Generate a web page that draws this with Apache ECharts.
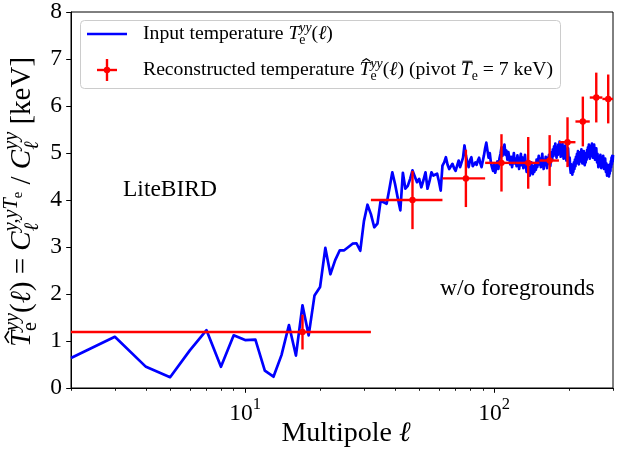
<!DOCTYPE html>
<html>
<head>
<meta charset="utf-8">
<script src="https://cdn.jsdelivr.net/npm/echarts@6/dist/echarts.min.js"></script>
<style>
  html, body { margin: 0; padding: 0; background: #ffffff; }
  #main { width: 621px; height: 451px; }
</style>
</head>
<body>
<div id="main"></div>
<script>
const FONT = '"Liberation Serif", "Times New Roman", serif';

// Axis ranges and tick positions
const xMin = 2;
const xMax = 300;
const yMin = 0;
const yMax = 8;
const xMajorTicks = [10, 100];
const xMinorTicks = [2, 3, 4, 5, 6, 7, 8, 9, 20, 30, 40, 50, 60, 70, 80, 90, 200, 300];

// Input temperature, one value per multipole, starting at ell = 2
const firstEll = 2;
const inputTe = [
  0.64, 1.09, 0.45, 0.23, 0.80, 1.23, 0.45, 1.12,
  1.02, 1.03, 0.37, 0.24, 0.70, 1.34, 0.69, 1.76, 1.12, 1.97,
  2.15, 2.98, 2.42, 2.72, 2.93, 2.93, 3.00, 3.07, 3.08, 2.92,
  3.55, 3.90, 3.70, 3.42, 3.50, 3.98, 3.95, 3.92, 4.25, 4.59,
  4.34, 4.05, 3.78, 4.58, 4.24, 4.30, 4.45, 4.63, 4.50, 4.38,
  4.45, 4.27, 4.42, 4.59, 4.24, 4.40, 4.59, 4.52, 4.49, 4.56,
  4.40, 4.20, 4.73, 4.80, 4.91, 4.75, 4.66, 4.70, 4.77, 4.68,
  4.62, 4.59, 4.84, 4.70, 4.66, 4.90, 5.16, 4.95, 4.80, 4.70,
  4.85, 4.91, 4.72, 4.68, 4.80, 4.75, 4.84, 4.90, 4.78, 4.70, 4.72,
  4.95, 5.10, 5.22, 5.05, 4.90, 5.00, 4.80, 4.70, 4.62, 4.75,
  4.58, 4.70, 4.82, 4.66, 4.88, 4.98, 5.12, 4.94, 5.08, 5.18,
  4.96, 5.05, 4.86, 5.02, 4.90, 4.76, 4.92, 4.70, 4.84, 5.00,
  4.78, 4.88, 4.72, 4.95, 4.80, 4.66, 4.86, 4.98, 4.74, 4.90,
  4.68, 4.82, 4.96, 4.72, 4.60, 4.76, 4.58, 4.70, 4.52, 4.66,
  4.80, 4.62, 4.55, 4.72, 4.60, 4.78, 4.64, 4.86, 4.70, 4.82,
  4.94, 4.76, 4.88, 4.70, 4.84, 4.98, 4.78, 4.66, 4.86, 4.74,
  4.92, 4.80, 4.68, 4.90, 4.78, 4.96, 4.84, 4.72, 4.88, 5.02,
  4.86, 5.08, 4.94, 5.14, 4.98, 5.20, 5.04, 4.90, 5.10, 4.96,
  5.18, 5.02, 5.24, 5.06, 4.92, 5.12, 4.96, 5.20, 5.04, 4.88,
  5.08, 4.94, 5.16, 4.98, 4.84, 5.04, 4.90, 5.10, 4.86, 4.74,
  4.90, 4.68, 4.58, 4.76, 4.62, 4.54, 4.72, 4.60, 4.80, 4.66,
  4.86, 4.72, 4.92, 4.78, 4.98, 4.84, 5.04, 4.88, 4.76, 4.96,
  4.82, 5.02, 4.86, 5.08, 4.90, 4.78, 4.98, 4.84, 5.04, 4.88,
  4.74, 4.94, 4.80, 5.00, 4.86, 5.06, 4.92, 5.12, 4.96, 5.18,
  5.02, 4.88, 5.08, 4.94, 5.16, 5.00, 5.20, 5.04, 4.90, 5.12,
  4.96, 5.18, 5.02, 4.86, 5.06, 4.92, 5.10, 4.94, 4.80, 4.98,
  4.84, 4.70, 4.88, 4.74, 4.92, 4.78, 4.96, 4.82, 4.68, 4.86,
  4.72, 4.90, 4.76, 4.94, 4.80, 4.66, 4.84, 4.70, 4.88, 4.74,
  4.60, 4.78, 4.64, 4.52, 4.70, 4.56, 4.74, 4.60, 4.50, 4.68,
  4.56, 4.76, 4.62, 4.82, 4.70, 4.90, 4.76, 4.94, 4.82, 4.96
];

// Reconstructed temperature in multipole bins of width 30
const binCenters = [17, 47, 77, 107, 137, 167, 197, 227, 257, 287];
const binHalfWidths = [15, 15, 15, 15, 15, 15, 15, 15, 15, 15];
const reconTe = [1.19, 4.00, 4.46, 4.79, 4.79, 4.84, 5.23, 5.67, 6.18, 6.15];
const reconErr = [0.37, 0.62, 0.61, 0.61, 0.55, 0.54, 0.53, 0.53, 0.53, 0.52];

const BLUE = '#0000ff';
const RED = '#ff0000';

const chart = echarts.init(document.getElementById('main'), null, { renderer: 'canvas' });

// ---- small helper to set math-like text (italics, sub/superscripts) ----
const measureCtx = document.createElement('canvas').getContext('2d');
function fontStr(size, italic) {
  return (italic ? 'italic ' : '') + size.toFixed(2) + 'px ' + FONT;
}
function textWidth(str, size, italic) {
  measureCtx.font = fontStr(size, italic);
  return measureCtx.measureText(str).width;
}
// Lays tokens out on a baseline at y = 0.
// t: text, it: italic, sc: size scale, dy: baseline shift (em, up positive),
// mark: remember start x, from: start at the remembered x, hat / bar accents.
function mathRun(tokens, base, color, align) {
  let x = 0, anchor = 0;
  const items = [];
  tokens.forEach(function (tk) {
    const size = base * (tk.sc || 1);
    const w = textWidth(tk.t, size, tk.it);
    let sx = tk.from ? anchor : x;
    sx += (tk.gap || 0) * base;
    if (tk.mark) anchor = sx;
    items.push({ tk: tk, size: size, w: w, sx: sx, by: -(tk.dy || 0) * base });
    x = Math.max(x, sx + w);
  });
  const width = x;
  const off = align === 'center' ? -width / 2 : 0;
  const els = [];
  items.forEach(function (it) {
    const sx = it.sx + off, by = it.by, size = it.size, w = it.w, tk = it.tk;
    els.push({
      type: 'text', x: sx, y: by - 0.34 * size, silent: true, z: 10,
      style: {
        text: tk.t, font: fontStr(size, tk.it), fill: color,
        align: 'left', textAlign: 'left', verticalAlign: 'middle', textVerticalAlign: 'middle'
      }
    });
    if (tk.hat) {
      const cx = sx + w * 0.62;
      els.push({
        type: 'polyline', silent: true, z: 10,
        shape: { points: [[cx - 0.2 * size, by - 0.8 * size], [cx, by - 0.93 * size], [cx + 0.2 * size, by - 0.8 * size]] },
        style: { stroke: color, lineWidth: 0.055 * size, fill: null }
      });
    }
    if (tk.bar) {
      els.push({
        type: 'line', silent: true, z: 10,
        shape: { x1: sx + 0.15 * w, y1: by - 0.8 * size, x2: sx + w * 1.05, y2: by - 0.8 * size },
        style: { stroke: color, lineWidth: 0.05 * size }
      });
    }
  });
  return { els: els, width: width };
}
function placeRun(run, x, y, rotation) {
  return { type: 'group', x: x, y: y, rotation: rotation || 0, z: 10, children: run.els };
}

// ---- series data ----
const lineData = inputTe.map(function (v, i) { return [firstEll + i, v]; });
const errData = binCenters.map(function (c, i) { return [c, reconTe[i], binHalfWidths[i], reconErr[i]]; });

// ---- text blocks ----
const LEG = 19.7;   // legend entries
const TXT = 23.5;   // tick labels and annotations
const LAB = 28;     // x axis title
const YLAB = 29;    // y axis title

const legendRow1 = mathRun([
  { t: 'Input temperature ' },
  { t: 'T', it: true },
  { t: 'yy', it: true, sc: 0.7, dy: 0.42, mark: true },
  { t: 'e', sc: 0.7, dy: -0.2, from: true },
  { t: '(' }, { t: 'ℓ', it: true }, { t: ')' }
], LEG, '#000');

const legendRow2 = mathRun([
  { t: 'Reconstructed temperature ' },
  { t: 'T', it: true, hat: true },
  { t: 'yy', it: true, sc: 0.7, dy: 0.42, mark: true },
  { t: 'e', sc: 0.7, dy: -0.2, from: true },
  { t: '(' }, { t: 'ℓ', it: true }, { t: ')' },
  { t: ' (pivot ' },
  { t: 'T', it: true, bar: true },
  { t: 'e', sc: 0.7, dy: -0.2 },
  { t: ' = 7 keV)' }
], LEG, '#000');

const yLabel = mathRun([
  { t: 'T', it: true, hat: true },
  { t: 'yy', it: true, sc: 0.7, dy: 0.42, mark: true },
  { t: 'e', sc: 0.7, dy: -0.2, from: true },
  { t: '(' }, { t: 'ℓ', it: true }, { t: ')' },
  { t: ' = ' },
  { t: 'C', it: true },
  { t: 'y,yT', it: true, sc: 0.7, dy: 0.45, mark: true },
  { t: 'e', sc: 0.5, dy: 0.32 },
  { t: 'ℓ', it: true, sc: 0.7, dy: -0.25, from: true },
  { t: ' / ' },
  { t: 'C', it: true },
  { t: 'yy', it: true, sc: 0.7, dy: 0.45, mark: true },
  { t: 'ℓ', it: true, sc: 0.7, dy: -0.25, from: true },
  { t: ' [keV]' }
], YLAB, '#000', 'center');

const xLabel = mathRun([{ t: 'Multipole ' }, { t: 'ℓ', it: true }], LAB, '#000', 'center');
const liteText = mathRun([{ t: 'LiteBIRD' }], TXT, '#000');
const fgText = mathRun([{ t: 'w/o foregrounds' }], TXT, '#000');

const legendBox = { x: 80, y: 20, w: 480, h: 68 };

const graphicEls = [
  {
    type: 'rect', z: 5, silent: true,
    shape: { x: legendBox.x + 0.5, y: legendBox.y + 0.5, width: legendBox.w, height: legendBox.h, r: 4 },
    style: { fill: 'rgba(255,255,255,0.8)', stroke: '#cccccc', lineWidth: 1 }
  },
  {
    type: 'line', z: 10, silent: true,
    shape: { x1: 87, y1: 34, x2: 127, y2: 34 },
    style: { stroke: BLUE, lineWidth: 2.7 }
  },
  {
    type: 'group', z: 10, silent: true, x: 107, y: 70,
    children: [
      { type: 'line', z: 10, shape: { x1: -10, y1: 0, x2: 10, y2: 0 }, style: { stroke: RED, lineWidth: 2.4 } },
      { type: 'line', z: 10, shape: { x1: 0, y1: -11, x2: 0, y2: 11 }, style: { stroke: RED, lineWidth: 2.4 } },
      { type: 'circle', z: 10, shape: { cx: 0, cy: 0, r: 3.2 }, style: { fill: RED } }
    ]
  },
  placeRun(legendRow1, 143, 41),
  placeRun(legendRow2, 143, 77),
  placeRun(liteText, 123, 198),
  placeRun(fgText, 440, 297),
  placeRun(xLabel, 346, 443),
  placeRun(yLabel, 32, 202, Math.PI / 2)
];

function logAxisBase(extra) {
  return Object.assign({
    type: 'log', logBase: 10, min: xMin, max: xMax, gridIndex: 0, position: 'bottom',
    axisLine: { show: true, onZero: false, lineStyle: { color: '#000', width: 1 } },
    splitLine: { show: false },
    minorTick: { show: false },
    minorSplitLine: { show: false }
  }, extra);
}

const option = {
  animation: false,
  backgroundColor: '#ffffff',
  grid: {
    left: 71, right: 8, top: 11, bottom: 63, containLabel: false,
    show: true, borderColor: '#000', borderWidth: 1, backgroundColor: 'transparent'
  },
  xAxis: [
    logAxisBase({
      axisTick: { show: true, inside: false, length: 2.8, customValues: xMinorTicks, lineStyle: { color: '#000', width: 0.9 } },
      axisLabel: { show: false }
    }),
    logAxisBase({
      axisTick: { show: true, inside: false, length: 4.8, customValues: xMajorTicks, lineStyle: { color: '#000', width: 1 } },
      axisLabel: {
        show: true, customValues: xMajorTicks, margin: 8,
        formatter: function (v) { return '{b|10}{s|' + Math.round(Math.log10(v)) + '}'; },
        rich: {
          b: { fontFamily: FONT, fontSize: TXT, color: '#000', lineHeight: 30, verticalAlign: 'bottom' },
          s: { fontFamily: FONT, fontSize: 16.5, color: '#000', lineHeight: 16, verticalAlign: 'top' }
        }
      }
    })
  ],
  yAxis: {
    type: 'value', min: yMin, max: yMax, interval: 1,
    axisLine: { show: true, onZero: false, lineStyle: { color: '#000', width: 1 } },
    axisTick: { show: true, inside: false, length: 4.8, lineStyle: { color: '#000', width: 1 } },
    axisLabel: { show: true, margin: 9, fontFamily: FONT, fontSize: TXT, color: '#000' },
    splitLine: { show: false }
  },
  series: [
    {
      name: 'Input temperature', type: 'line', xAxisIndex: 0, yAxisIndex: 0,
      data: lineData, showSymbol: false, symbol: 'none', clip: true, z: 2,
      lineStyle: { color: BLUE, width: 2.7, join: 'round' }
    },
    {
      name: 'Reconstructed temperature', type: 'custom', xAxisIndex: 0, yAxisIndex: 0,
      data: errData, clip: true, z: 3,
      encode: { x: 0, y: 1 },
      renderItem: function (params, api) {
        const c = api.value(0), v = api.value(1), dx = api.value(2), dy = api.value(3);
        const pL = api.coord([c - dx, v]);
        const pR = api.coord([c + dx, v]);
        const pT = api.coord([c, v + dy]);
        const pB = api.coord([c, v - dy]);
        const pC = api.coord([c, v]);
        return {
          type: 'group',
          children: [
            { type: 'line', shape: { x1: pL[0], y1: pL[1], x2: pR[0], y2: pR[1] }, style: { stroke: RED, lineWidth: 2.4 } },
            { type: 'line', shape: { x1: pT[0], y1: pT[1], x2: pB[0], y2: pB[1] }, style: { stroke: RED, lineWidth: 2.4 } },
            { type: 'circle', shape: { cx: pC[0], cy: pC[1], r: 3.2 }, style: { fill: RED } }
          ]
        };
      }
    }
  ],
  graphic: { elements: graphicEls }
};

chart.setOption(option);
</script>
</body>
</html>
